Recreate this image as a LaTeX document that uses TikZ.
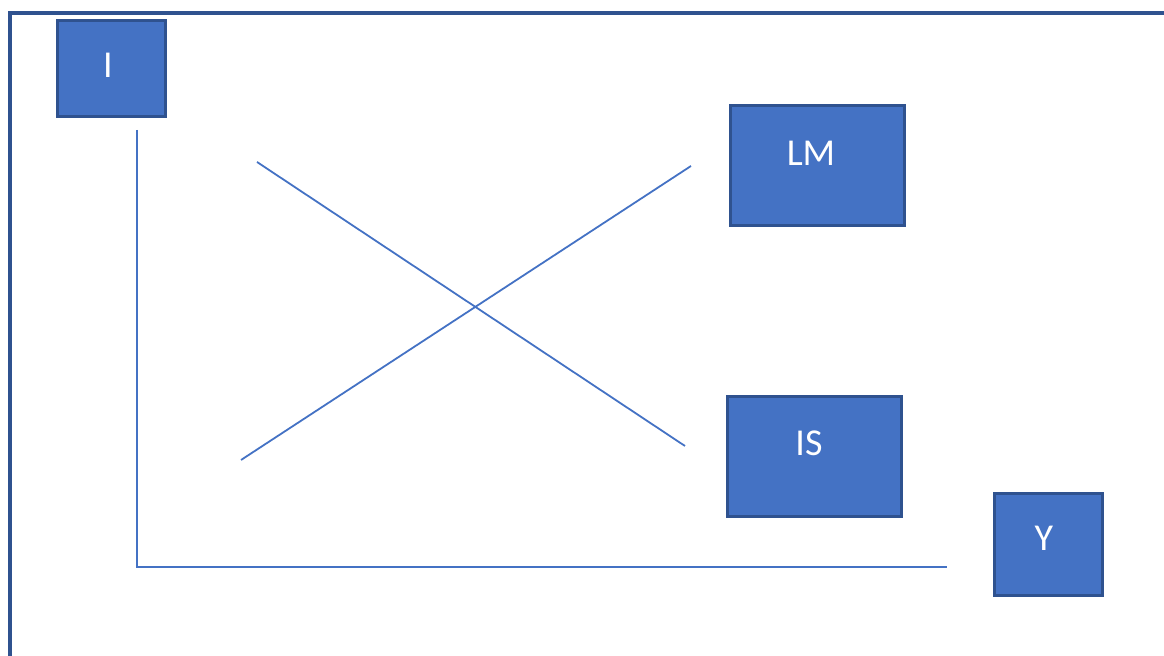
\documentclass[tikz,border=0pt]{standalone}
\usepackage{fontspec}
\setmainfont{Carlito}
\definecolor{boxfill}{HTML}{4472C4}
\definecolor{boxedge}{HTML}{2F528F}
\begin{document}
\begin{tikzpicture}[x=0.5pt,y=-0.5pt,
  box/.style={draw=boxedge,fill=boxfill,line width=1.5pt,minimum width=#1,inner sep=0pt},
  lbl/.style={text=white,font=\fontsize{19}{19}\selectfont,inner sep=0pt},
  axis/.style={draw=boxfill,line width=1.2pt},
  curve/.style={draw=boxfill,line width=0.9pt}]
\useasboundingbox (0,0) rectangle (1164,656);
% frame
\draw[boxedge,line width=2pt] (10,656) -- (10,13) -- (1164,13);
% boxes
\node[box=54pt,minimum height=48pt] (ibox) at (111,69) {};
\node[box=87pt,minimum height=60pt] (lmbox) at (817,166) {};
\node[box=87pt,minimum height=60pt] (isbox) at (814,457) {};
\node[box=54pt,minimum height=51pt] (ybox) at (1048,545) {};
\node[lbl] (itext) at (108,65) {I};
\node[lbl] (lmtext) at (811,153) {LM};
\node[lbl] (istext) at (809,443) {IS};
\node[lbl] (ytext) at (1044,538) {Y};
% axes
\coordinate (top) at (137,130);
\coordinate (origin) at (137,567);
\coordinate (right) at (947,567);
\draw[axis] (top) -- (origin) -- (right);
% IS and LM curves
\coordinate (is1) at (257,162);
\coordinate (is2) at (685,446);
\coordinate (lm1) at (241,460);
\coordinate (lm2) at (691,166);
\draw[curve] (is1) -- (is2);
\draw[curve] (lm1) -- (lm2);
\end{tikzpicture}
\end{document}
